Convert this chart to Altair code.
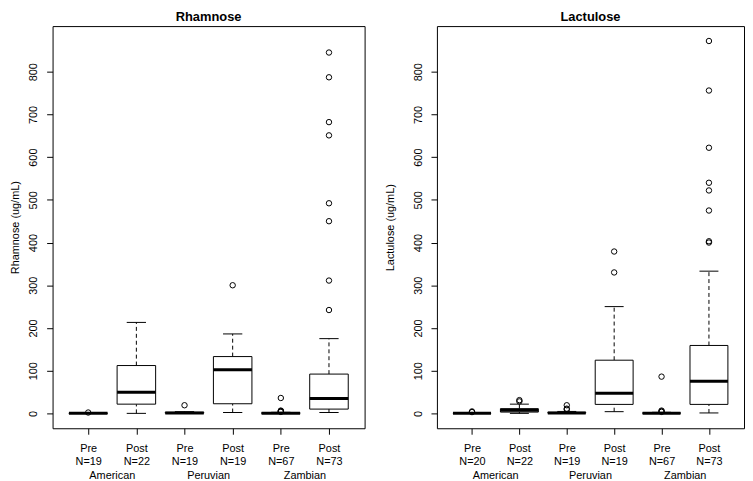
import altair as alt
import pandas as pd

# ---- data ----
positions = [1, 2, 3, 4, 5, 6]
phase = ["Pre", "Post", "Pre", "Post", "Pre", "Post"]
groups = ["American", "Peruvian", "Zambian"]
group_centers = [1.5, 3.5, 5.5]

rham_n = [19, 22, 19, 19, 67, 73]
rham_wlo = [0, 0, 0, 2, 0, 2]
rham_q1 = [0, 21.6, 0.5, 22.5, 0.2, 10]
rham_med = [0.3, 49.5, 1.0, 102, 0.5, 35]
rham_q3 = [0.8, 112, 2.5, 133, 1.2, 92]
rham_whi = [1.2, 213, 4, 186, 2.5, 175]
rham_outliers = [[2], [], [19], [300], [3.5, 4.5, 5.5, 6.5, 36],
                 [242, 311, 450, 492, 651, 682, 787, 845]]

lact_n = [20, 22, 19, 19, 67, 73]
lact_wlo = [0, 0, 0, 4, 0, 1]
lact_q1 = [0.2, 3, 0.5, 21, 0.2, 21]
lact_med = [0.5, 7.5, 1.0, 47, 0.5, 75]
lact_q3 = [1.0, 11, 2.5, 124.5, 1.2, 159]
lact_whi = [2, 21.6, 4.5, 250, 2.5, 333]
lact_outliers = [[3, 4.5], [28, 31], [9, 11, 19], [330, 379], [3.5, 5, 6.5, 86],
                 [400, 403, 475, 522, 540, 622, 756, 872]]

y_ticks = [0, 100, 200, 300, 400, 500, 600, 700, 800]
y_domain = [-34.9, 906.9]
x_domain = [0.26, 6.74]

FONT = "Liberation Sans"
FS = 11


def panel(title, ytitle, n, wlo, q1, med, q3, whi, outliers, width, title_pad):
    df = pd.DataFrame(dict(pos=positions, wlo=wlo, q1=q1, med=med, q3=q3, whi=whi))
    out_rows = [dict(pos=p, val=v) for p, vals in zip(positions, outliers) for v in vals]
    odf = pd.DataFrame(out_rows)
    gdf = pd.DataFrame(dict(center=group_centers, name=groups))

    xs = alt.Scale(domain=x_domain, nice=False, zero=False)
    ys = alt.Scale(domain=y_domain, nice=False, zero=False)

    label_arr = "[" + ",".join(f"['{p}','N={k}']" for p, k in zip(phase, n)) + "]"
    x_axis = alt.Axis(values=positions, labelExpr=label_arr + "[datum.value - 1]",
                      title=None, tickSize=6, labelPadding=8.5, labelLineHeight=13.3,
                      labelFlush=False, labelOverlap=False, grid=False, domain=False)
    y_axis = alt.Axis(values=y_ticks, labelAngle=-90, title=ytitle, tickSize=6,
                      labelPadding=8, titlePadding=title_pad, labelOverlap=False,
                      labelFlush=False, grid=False, domain=False)

    def X(f):
        return alt.X(f, scale=xs, axis=x_axis, title=None)

    def Y(f):
        return alt.Y(f, scale=ys, axis=y_axis, title=ytitle)

    base = alt.Chart(df)
    calc = base.transform_calculate(
        bl="datum.pos - 0.4", br="datum.pos + 0.4",
        sl="datum.pos - 0.2", sr="datum.pos + 0.2")

    w_lo = base.mark_rule(color="black", strokeWidth=1, strokeDash=[4, 3]).encode(
        x=X("pos:Q"), y=Y("wlo:Q"), y2="q1:Q")
    w_hi = base.mark_rule(color="black", strokeWidth=1, strokeDash=[4, 3]).encode(
        x=X("pos:Q"), y=Y("q3:Q"), y2="whi:Q")
    st_lo = calc.mark_rule(color="black", strokeWidth=1).encode(
        x=X("sl:Q"), x2="sr:Q", y=Y("wlo:Q"))
    st_hi = calc.mark_rule(color="black", strokeWidth=1).encode(
        x=X("sl:Q"), x2="sr:Q", y=Y("whi:Q"))
    box = calc.mark_rect(fill="white", stroke="black", strokeWidth=1).encode(
        x=X("bl:Q"), x2="br:Q", y=Y("q1:Q"), y2="q3:Q")
    median = calc.mark_rule(color="black", strokeWidth=3).encode(
        x=X("bl:Q"), x2="br:Q", y=Y("med:Q"))
    pts = alt.Chart(odf).mark_point(shape="circle", filled=False, color="black",
                                    size=30, strokeWidth=1, opacity=1).encode(
        x=X("pos:Q"), y=Y("val:Q"))
    gtext = alt.Chart(gdf).mark_text(font=FONT, fontSize=FS, color="black",
                                     baseline="middle", align="center").encode(
        x=X("center:Q"), y=alt.value(454), text="name:N")

    return alt.layer(w_lo, w_hi, st_lo, st_hi, box, median, pts, gtext).properties(
        width=width, height=406,
        title=alt.TitleParams(title, font=FONT, fontSize=13, fontWeight="bold",
                              anchor="middle", offset=2, color="black"))


left = panel("Rhamnose", "Rhamnose (ug/mL)", rham_n, rham_wlo, rham_q1, rham_med,
             rham_q3, rham_whi, rham_outliers, 315, 7)
right = panel("Lactulose", "Lactulose (ug/mL)", lact_n, lact_wlo, lact_q1, lact_med,
              lact_q3, lact_whi, lact_outliers, 310, 17)

chart = alt.hconcat(left, right, spacing=18).properties(
    padding={"left": 1, "top": 0, "right": 0, "bottom": 0},
    background="white"
).configure_view(stroke="black", strokeWidth=1).configure_axis(
    labelFont=FONT, labelFontSize=FS, labelColor="black",
    titleFont=FONT, titleFontSize=FS, titleFontWeight="normal", titleColor="black",
    tickColor="black", tickWidth=1)

chart.save("out.html", embed_options={"renderer": "svg", "actions": False})
